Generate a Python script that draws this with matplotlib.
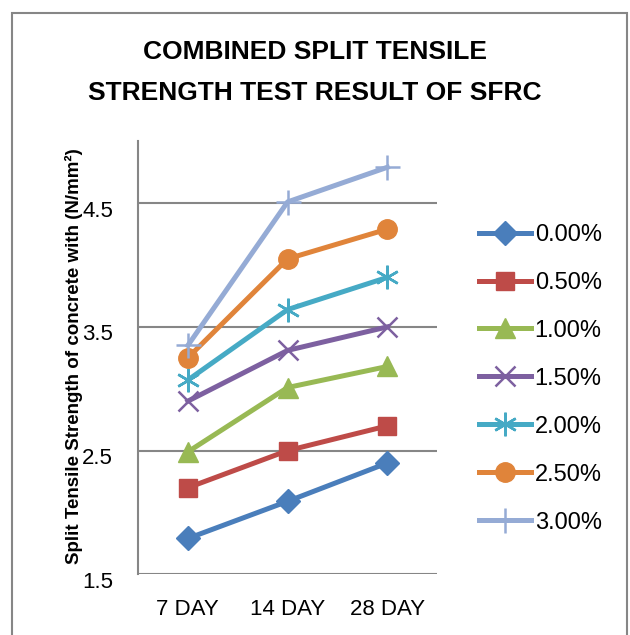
import matplotlib.pyplot as plt
import matplotlib.transforms as mtransforms
from matplotlib.patches import Rectangle

days = ["7 DAY", "14 DAY", "28 DAY"]
series_names = ["0.00%", "0.50%", "1.00%", "1.50%", "2.00%", "2.50%", "3.00%"]
fiber_000 = [1.79, 2.09, 2.40]
fiber_050 = [2.20, 2.50, 2.70]
fiber_100 = [2.49, 3.01, 3.18]
fiber_150 = [2.90, 3.31, 3.50]
fiber_200 = [3.07, 3.64, 3.90]
fiber_250 = [3.25, 4.05, 4.29]
fiber_300 = [3.35, 4.51, 4.79]
y_ticks = [1.5, 2.5, 3.5, 4.5]

all_series = [fiber_000, fiber_050, fiber_100, fiber_150, fiber_200, fiber_250, fiber_300]
colors = ["#4A7EBB", "#BE4B48", "#98B954", "#7D60A0", "#46AAC5", "#E0843A", "#95ABD5"]
markers = ["D", "s", "^", "x", "*", "o", "+"]
msizes = [12, 13, 14, 15, 17, 14, 18]

plt.rcParams["font.family"] = ["Liberation Sans", "DejaVu Sans"]

fig = plt.figure(figsize=(6.3, 6.35), dpi=100)
ax = fig.add_axes([0.219, 0.0955, 0.475, 0.682])

x = range(len(days))
for vals, name, c, m, ms in zip(all_series, series_names, colors, markers, msizes):
    if m in ("x", "+"):
        ax.plot(x, vals, color=c, lw=3.6, marker=m, ms=ms, mew=1.8, label=name)
    elif m == "*":
        ax.plot(x, vals, color=c, lw=3.6, marker=(6, 2, 0), ms=ms, mew=1.8,
                mec=c, label=name)
    else:
        ax.plot(x, vals, color=c, lw=3.6, marker=m, ms=ms, mec=c, label=name)

ax.set_xlim(-0.5, 2.5)
ax.set_ylim(1.5, 5.0)
ax.set_yticks(y_ticks)
ax.set_yticklabels([str(v) for v in y_ticks], va="center_baseline")
ax.set_xticks(list(x))
ax.set_xticklabels(days)
ax.tick_params(axis="both", length=0, labelsize=16, pad=18)
ax.tick_params(axis="x", pad=18)
# excel puts the value labels a little below their gridline
shift = mtransforms.ScaledTranslation(0, -4 / 72, fig.dpi_scale_trans)
for lbl in ax.get_yticklabels():
    lbl.set_transform(lbl.get_transform() + shift)
ax.grid(axis="y", color="#868686", lw=1.5)
ax.set_axisbelow(True)
for s in ["top", "right", "bottom"]:
    ax.spines[s].set_visible(False)
ax.spines["left"].set_color("#868686")
ax.spines["left"].set_linewidth(1.5)

ax.set_ylabel("Split Tensile Strength of concrete with (N/mm²)", fontsize=13.5,
              fontweight="bold")
ax.yaxis.set_label_coords(-0.183, 0.505)

fig.text(0.5, 0.918, "COMBINED SPLIT TENSILE", ha="center", va="center",
         fontsize=19, fontweight="bold")
fig.text(0.5, 0.853, "STRENGTH TEST RESULT OF SFRC", ha="center", va="center",
         fontsize=19, fontweight="bold")

fig.legend(loc="upper left", bbox_to_anchor=(0.727, 0.681), frameon=False,
           fontsize=17, handlelength=2.2, labelspacing=1.1, handletextpad=0.15)

fig.patches.append(Rectangle((0.019, -0.05), 0.976, 1.03, transform=fig.transFigure,
                             fill=False, edgecolor="#868686", lw=1.5))

plt.savefig("out.png")
